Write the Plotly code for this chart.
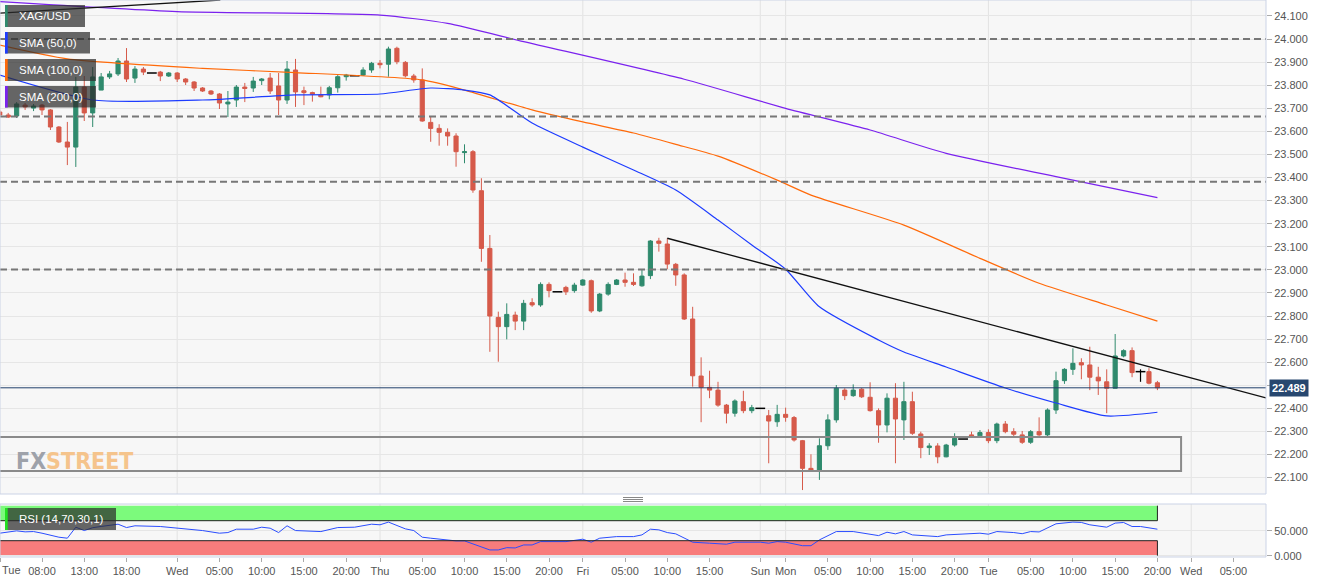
import plotly.graph_objects as go

# ---------------- data (hourly candles, hour index 0 = first Tue 00:00, weekend collapsed) ----------------
hours = list(range(3, 141))

opens = [
    23.684, 23.671, 23.667, 23.714, 23.701, 23.714, 23.693, 23.619, 23.554, 23.532,
    23.792, 23.680, 23.779, 23.836, 23.849, 23.905, 23.831, 23.870, 23.853, 23.857,
    23.840, 23.853, 23.827, 23.814, 23.788, 23.775, 23.762, 23.719, 23.736, 23.792,
    23.788, 23.820, 23.831, 23.797, 23.736, 23.866, 23.776, 23.768, 23.758, 23.758,
    23.789, 23.837, 23.841, 23.844, 23.866, 23.895, 23.891, 23.960, 23.899, 23.840,
    23.823, 23.639, 23.613, 23.596, 23.580, 23.508, 23.512, 23.343, 23.093, 22.794,
    22.754, 22.804, 22.778, 22.858, 22.848, 22.937, 22.905, 22.924, 22.910, 22.934,
    22.953, 22.822, 22.895, 22.937, 22.956, 22.946, 22.931, 22.975, 23.125, 23.112,
    23.024, 22.978, 22.787, 22.540, 22.491, 22.479, 22.414, 22.379, 22.429, 22.390,
    22.400, 22.368, 22.342, 22.374, 22.360, 22.260, 22.140, 22.130, 22.238, 22.350,
    22.479, 22.455, 22.483, 22.448, 22.390, 22.328, 22.444, 22.350, 22.429, 22.289,
    22.230, 22.237, 22.190, 22.241, 22.267, 22.285, 22.281, 22.295, 22.260, 22.332,
    22.299, 22.285, 22.253, 22.299, 22.285, 22.393, 22.520, 22.569, 22.598, 22.588,
    22.535, 22.515, 22.487, 22.627, 22.650, 22.559, 22.559, 22.511,
]
highs = [
    23.693, 23.680, 23.727, 23.723, 23.719, 23.719, 23.697, 23.623, 23.641, 23.836,
    23.840, 23.879, 23.853, 23.862, 23.918, 23.961, 23.883, 23.879, 23.853, 23.862,
    23.857, 23.857, 23.831, 23.818, 23.792, 23.779, 23.766, 23.775, 23.801, 23.810,
    23.836, 23.831, 23.853, 23.853, 23.905, 23.914, 23.794, 23.772, 23.794, 23.797,
    23.844, 23.849, 23.841, 23.878, 23.901, 23.909, 23.967, 23.967, 23.905, 23.849,
    23.873, 23.664, 23.631, 23.613, 23.592, 23.544, 23.519, 23.397, 23.151, 22.819,
    22.855, 22.819, 22.870, 22.877, 22.946, 22.946, 22.905, 22.931, 22.944, 22.960,
    22.958, 22.900, 22.946, 22.960, 22.988, 22.985, 23.003, 23.129, 23.139, 23.137,
    23.030, 22.985, 22.840, 22.621, 22.563, 22.515, 22.419, 22.439, 22.476, 22.415,
    22.400, 22.393, 22.415, 22.403, 22.367, 22.263, 22.201, 22.270, 22.374, 22.501,
    22.487, 22.504, 22.488, 22.513, 22.400, 22.465, 22.509, 22.515, 22.472, 22.299,
    22.249, 22.249, 22.246, 22.292, 22.267, 22.299, 22.306, 22.309, 22.338, 22.345,
    22.314, 22.302, 22.306, 22.361, 22.400, 22.559, 22.574, 22.660, 22.617, 22.667,
    22.580, 22.569, 22.722, 22.656, 22.664, 22.569, 22.574, 22.519,
]
lows = [
    23.662, 23.658, 23.658, 23.693, 23.688, 23.671, 23.606, 23.550, 23.454, 23.446,
    23.645, 23.619, 23.779, 23.827, 23.840, 23.814, 23.810, 23.844, 23.853, 23.818,
    23.836, 23.814, 23.801, 23.775, 23.771, 23.758, 23.697, 23.662, 23.706, 23.727,
    23.771, 23.801, 23.762, 23.671, 23.719, 23.706, 23.714, 23.729, 23.748, 23.739,
    23.768, 23.820, 23.841, 23.840, 23.854, 23.873, 23.837, 23.891, 23.834, 23.811,
    23.642, 23.555, 23.538, 23.538, 23.447, 23.462, 23.334, 23.035, 22.645, 22.602,
    22.699, 22.739, 22.739, 22.840, 22.840, 22.881, 22.905, 22.891, 22.901, 22.931,
    22.814, 22.817, 22.888, 22.934, 22.927, 22.930, 22.927, 22.960, 23.079, 23.003,
    22.931, 22.783, 22.494, 22.340, 22.444, 22.407, 22.335, 22.364, 22.379, 22.379,
    22.400, 22.162, 22.320, 22.342, 22.256, 22.046, 22.126, 22.090, 22.220, 22.338,
    22.436, 22.450, 22.445, 22.386, 22.251, 22.296, 22.162, 22.263, 22.285, 22.184,
    22.198, 22.162, 22.188, 22.234, 22.267, 22.275, 22.277, 22.249, 22.249, 22.292,
    22.277, 22.246, 22.246, 22.277, 22.277, 22.376, 22.506, 22.545, 22.526, 22.479,
    22.458, 22.379, 22.487, 22.621, 22.535, 22.515, 22.504, 22.479,
]
closes = [
    23.671, 23.662, 23.719, 23.706, 23.710, 23.693, 23.619, 23.554, 23.532, 23.792,
    23.680, 23.836, 23.836, 23.849, 23.905, 23.827, 23.870, 23.857, 23.853, 23.840,
    23.853, 23.827, 23.814, 23.788, 23.775, 23.762, 23.723, 23.727, 23.792, 23.786,
    23.818, 23.827, 23.775, 23.736, 23.870, 23.771, 23.768, 23.761, 23.750, 23.789,
    23.837, 23.844, 23.841, 23.866, 23.895, 23.889, 23.957, 23.902, 23.841, 23.823,
    23.645, 23.613, 23.596, 23.580, 23.512, 23.512, 23.346, 23.093, 22.800, 22.754,
    22.807, 22.778, 22.855, 22.848, 22.937, 22.910, 22.905, 22.905, 22.934, 22.956,
    22.822, 22.895, 22.937, 22.956, 22.946, 22.937, 22.973, 23.125, 23.115, 23.025,
    22.978, 22.787, 22.541, 22.491, 22.479, 22.414, 22.379, 22.432, 22.390, 22.403,
    22.400, 22.345, 22.374, 22.361, 22.263, 22.140, 22.130, 22.238, 22.350, 22.487,
    22.455, 22.479, 22.450, 22.390, 22.328, 22.444, 22.354, 22.429, 22.292, 22.230,
    22.237, 22.190, 22.241, 22.270, 22.267, 22.277, 22.295, 22.260, 22.332, 22.299,
    22.288, 22.253, 22.299, 22.285, 22.393, 22.520, 22.569, 22.595, 22.588, 22.535,
    22.519, 22.487, 22.627, 22.650, 22.555, 22.559, 22.509, 22.489,
]

sma50_h = [3, 14, 27, 38, 48, 54, 58, 61, 66, 72, 78, 83, 88, 92, 96, 100, 107, 110, 115, 122, 128, 134, 140]
sma50_v = [23.844, 23.736, 23.736, 23.758, 23.762, 23.788, 23.779, 23.758, 23.636, 23.532, 23.433, 23.346,
           23.216, 23.108, 23.003, 22.840, 22.696, 22.644, 22.579, 22.488, 22.423, 22.367, 22.383]
sma100_h = [3, 11, 27, 38, 53, 58, 66, 72, 78, 83, 88, 95, 99, 110, 119, 126, 134, 140]
sma100_v = [23.974, 23.914, 23.873, 23.855, 23.823, 23.779, 23.693, 23.641, 23.593, 23.544, 23.493, 23.389,
            23.324, 23.194, 23.050, 22.942, 22.848, 22.778]
sma200_h = [3, 24, 48, 56, 65, 84, 96, 106, 115, 128, 140]
sma200_v = [24.162, 24.119, 24.104, 24.068, 23.989, 23.826, 23.700, 23.606, 23.505, 23.404, 23.313]

trend_up_h = [3.03, 29.1]
trend_up_p = [24.112, 24.169]
trend_down_h = [82, 152.85]
trend_down_p = [23.137, 22.445]

levels = [24.000, 23.664, 23.382, 23.002]
zone_low, zone_high, zone_end_h = 22.129, 22.276, 142.8
last_price = 22.489

rsi_h = [3, 5, 6, 7, 8, 10, 11, 12, 13, 14, 15, 17, 18, 19, 22, 24, 27, 29, 30, 31, 33, 34, 35, 36, 37, 38,
         41, 43, 45, 47, 48, 49, 51, 52, 53, 54, 56, 57, 58, 61, 62, 63, 64, 65, 66, 67, 70, 72, 73, 74, 76,
         78, 79, 80, 81, 82, 83, 85, 87, 89, 90, 93, 94, 95, 96, 98, 99, 100, 102, 104, 107, 108, 109, 110,
         111, 112, 114, 115, 117, 119, 120, 121, 123, 124, 125, 126, 128, 130, 131, 132, 134, 135, 136, 137,
         138, 139, 140]
rsi_v = [45, 49.7, 47.7, 48.3, 45, 37, 35, 57, 50.3, 56, 58.5, 63, 56.3, 59.8, 58.4, 55, 50.3, 45, 46.3, 53,
         53, 57, 55, 46.3, 59.8, 50.3, 48.3, 56.3, 57, 63, 61.8, 67.2, 53.7, 50.3, 37, 35, 31.6, 29.6, 29.6,
         11.5, 11.5, 16.1, 15.5, 21.5, 21.5, 28.2, 28.2, 33, 27, 35, 38.2, 38.2, 41.6, 53, 51.7, 46.3, 43.7,
         27, 25, 23, 27, 27, 25, 28.2, 27, 20, 20, 31.6, 48.3, 48.3, 40.2, 47, 43.7, 48.3, 41.6, 40, 38.2,
         41.6, 43, 45, 43, 48.3, 46.3, 44, 48.3, 47.5, 63.8, 67.2, 66.5, 61.8, 57, 65.2, 66.4, 58.4, 58.4,
         55, 53]
rsi_upper, rsi_lower = 70, 30

price_ticks = [22.1, 22.2, 22.3, 22.4, 22.5, 22.6, 22.7, 22.8, 22.9, 23.0, 23.1, 23.2, 23.3, 23.4, 23.5,
               23.6, 23.7, 23.8, 23.9, 24.0, 24.1]
hidden_price_ticks = [22.5]  # covered by the last-price tag in the reference

day_h = [24, 48, 72, 93, 96, 120, 144]
tick_h = [3.1, 8, 13, 18, 24, 29, 34, 39, 44, 48, 53, 58, 63, 68, 72, 77, 82, 87, 93, 96, 101, 106, 111,
          116, 120, 125, 130, 135, 140, 144, 149]
tick_text = ["", "08:00", "13:00", "18:00", "Wed", "05:00", "10:00", "15:00", "20:00", "Thu", "05:00",
             "10:00", "15:00", "20:00", "Fri", "05:00", "10:00", "15:00", "Sun", "Mon", "05:00", "10:00",
             "15:00", "20:00", "Tue", "05:00", "10:00", "15:00", "20:00", "Wed", "05:00"]
first_day_label = "Tue"

labels = ["XAG/USD", "SMA (50,0)", "SMA (100,0)", "SMA (200,0)"]

# ---------------- styling / layout constants ----------------
W, H = 1331, 583
ML, MR, MT, MB = 0, 65, 0, 26
PW, PH = W - ML - MR, H - MT - MB
X_RANGE = [3.03, 152.85]
Y_RANGE = [22.0289, 24.1693]
RSI_RANGE = [-2.6, 103.4]
MAIN_BOTTOM_PX, RSI_TOP_PX = 494, 504
UP, DOWN = "#2f8a6d", "#d65a4a"
FONT = "Liberation Sans, Arial, sans-serif"
AXIS_FONT = dict(family=FONT, size=11, color="#555555")


def px_x(px):
    return px / PW


def px_y(py):
    return 1 - py / PH


# split doji candles (drawn as black dashes) from regular ones
reg = [i for i in range(len(hours)) if opens[i] != closes[i]]
doj = [i for i in range(len(hours)) if opens[i] == closes[i]]

fig = go.Figure()
fig.add_trace(go.Candlestick(
    x=[hours[i] for i in reg], open=[opens[i] for i in reg], high=[highs[i] for i in reg],
    low=[lows[i] for i in reg], close=[closes[i] for i in reg],
    increasing=dict(line=dict(color=UP, width=1), fillcolor=UP),
    decreasing=dict(line=dict(color=DOWN, width=1), fillcolor=DOWN),
    whiskerwidth=0, hoverinfo="skip", xaxis="x", yaxis="y"))

# doji wicks + dashes
wx, wy = [], []
for i in doj:
    if highs[i] > lows[i]:
        wx += [hours[i], hours[i], None]
        wy += [lows[i], highs[i], None]
fig.add_trace(go.Scatter(x=wx, y=wy, mode="lines", line=dict(color="black", width=1.2),
                         hoverinfo="skip", xaxis="x", yaxis="y"))
fig.add_trace(go.Scatter(x=[hours[i] for i in doj], y=[closes[i] for i in doj], mode="markers",
                         marker=dict(symbol="line-ew", size=7, line=dict(color="black", width=1.5)),
                         hoverinfo="skip", xaxis="x", yaxis="y"))

for hh, vv, col in [(sma200_h, sma200_v, "#7b22ee"), (sma100_h, sma100_v, "#ff6a0a"),
                    (sma50_h, sma50_v, "#1d3cff")]:
    fig.add_trace(go.Scatter(x=hh, y=vv, mode="lines",
                             line=dict(color=col, width=1.2, shape="spline", smoothing=0.6),
                             hoverinfo="skip", xaxis="x", yaxis="y"))

for hh, pp in [(trend_up_h, trend_up_p), (trend_down_h, trend_down_p)]:
    fig.add_trace(go.Scatter(x=hh, y=pp, mode="lines", line=dict(color="#111111", width=1.3),
                             hoverinfo="skip", xaxis="x", yaxis="y"))

fig.add_trace(go.Scatter(x=rsi_h, y=rsi_v, mode="lines", line=dict(color="#2a4dff", width=1),
                         hoverinfo="skip", xaxis="x", yaxis="y2"))

shapes = []
# day separators
for d in day_h:
    for yr in ["y domain", "y2 domain"]:
        shapes.append(dict(type="line", xref="x", yref=yr, x0=d, x1=d, y0=0, y1=1,
                           line=dict(color="#e2e2e2", width=1), layer="below"))
# key levels
for lv in levels:
    shapes.append(dict(type="line", xref="x domain", yref="y", x0=0, x1=1, y0=lv, y1=lv,
                       line=dict(color="#777777", width=2, dash="7px,4px")))
# support zone
shapes.append(dict(type="rect", xref="x", yref="y", x0=0, x1=zone_end_h, y0=zone_low, y1=zone_high,
                   line=dict(color="#8a8a8a", width=2), fillcolor="rgba(0,0,0,0)"))
# last price line
shapes.append(dict(type="line", xref="x domain", yref="y", x0=0, x1=1, y0=last_price, y1=last_price,
                   line=dict(color="#22406b", width=1)))
# RSI bands
last_h = hours[-1]
shapes.append(dict(type="rect", xref="x", yref="y2", x0=X_RANGE[0], x1=last_h, y0=rsi_upper, y1=100,
                   fillcolor="#7cfa7c", line=dict(width=0), layer="below"))
shapes.append(dict(type="rect", xref="x", yref="y2", x0=X_RANGE[0], x1=last_h, y0=0, y1=rsi_lower,
                   fillcolor="#f87c7c", line=dict(width=0), layer="below"))
for y0, y1 in [(rsi_upper, rsi_upper), (rsi_lower, rsi_lower)]:
    shapes.append(dict(type="line", xref="x", yref="y2", x0=X_RANGE[0], x1=last_h, y0=y0, y1=y1,
                       line=dict(color="#222222", width=1)))
for y0, y1 in [(rsi_upper, 100), (0, rsi_lower)]:
    shapes.append(dict(type="line", xref="x", yref="y2", x0=last_h, x1=last_h, y0=y0, y1=y1,
                       line=dict(color="#222222", width=1)))
# panel borders
for yr in ["y domain", "y2 domain"]:
    shapes.append(dict(type="rect", xref="paper", yref=yr, x0=0, x1=1, y0=0, y1=1,
                       line=dict(color="#cbd3e6", width=1), fillcolor="rgba(0,0,0,0)"))
# resize handle
for py in [497.5, 499.5, 501.5]:
    shapes.append(dict(type="line", xref="paper", yref="paper", x0=px_x(623), x1=px_x(643),
                       y0=px_y(py), y1=px_y(py), line=dict(color="#888888", width=1)))

# legend-like label boxes
box_specs = [(5, 85, 5, 27, UP), (5, 90, 32, 53.5, "#1d3cff"), (5, 96, 59, 81, "#ff6a0a"),
             (5, 96, 86, 107.5, "#7b22ee")]
annotations = []
for (x0, x1, y0, y1, col), txt in zip(box_specs, labels):
    shapes.append(dict(type="rect", xref="paper", yref="paper", x0=px_x(x0), x1=px_x(x1),
                       y0=px_y(y1), y1=px_y(y0), fillcolor="rgba(45,45,45,0.72)", line=dict(width=0)))
    shapes.append(dict(type="rect", xref="paper", yref="paper", x0=px_x(x0), x1=px_x(x0 + 2.7),
                       y0=px_y(y1), y1=px_y(y0), fillcolor=col, line=dict(width=0)))
    annotations.append(dict(xref="paper", yref="paper", x=px_x(16.5), y=px_y((y0 + y1) / 2), text=txt,
                            showarrow=False, xanchor="left", yanchor="middle",
                            font=dict(family=FONT, size=11.5, color="white")))
# RSI label box
shapes.append(dict(type="rect", xref="paper", yref="paper", x0=px_x(5), x1=px_x(116),
                   y0=px_y(530), y1=px_y(508), fillcolor="rgba(45,45,45,0.72)", line=dict(width=0)))
shapes.append(dict(type="rect", xref="paper", yref="paper", x0=px_x(5), x1=px_x(7.7),
                   y0=px_y(530), y1=px_y(508), fillcolor="#22e022", line=dict(width=0)))
annotations.append(dict(xref="paper", yref="paper", x=px_x(16.5), y=px_y(519), text="RSI (14,70,30,1)",
                        showarrow=False, xanchor="left", yanchor="middle",
                        font=dict(family=FONT, size=11.5, color="white")))
# price tag
annotations.append(dict(xref="paper", yref="y", x=1, xshift=3, y=last_price, text="<b>%.3f</b>" % last_price,
                        showarrow=False, xanchor="left", yanchor="middle", bgcolor="#27476f", borderpad=2,
                        font=dict(family=FONT, size=11, color="white")))
# first day label
annotations.append(dict(xref="paper", yref="paper", x=0, y=px_y(570), text=first_day_label, showarrow=False,
                        xanchor="left", yanchor="middle", font=AXIS_FONT))
# watermark
annotations.append(dict(xref="paper", yref="paper", x=px_x(14), y=px_y(461),
                        text="<b><span style='color:#9ea2aa'>FX</span><span style='color:#f5c48c'>STREET</span></b>",
                        showarrow=False, xanchor="left", yanchor="middle",
                        font=dict(family="Liberation Sans Narrow, DejaVu Sans Condensed, Arial Narrow, sans-serif",
                                  size=23)))

price_tick_text = ["" if t in hidden_price_ticks else "%.3f" % t for t in price_ticks]

fig.update_layout(
    width=W, height=H, margin=dict(l=ML, r=MR, t=MT, b=MB),
    paper_bgcolor="white", plot_bgcolor="#f7f7f7", showlegend=False, boxgap=0.3,
    font=dict(family=FONT),
    xaxis=dict(range=X_RANGE, anchor="y2", rangeslider=dict(visible=False), showgrid=False, zeroline=False,
               tickmode="array", tickvals=tick_h, ticktext=tick_text, ticks="outside", ticklen=4,
               tickcolor="#aaaaaa", tickfont=AXIS_FONT, showline=False),
    yaxis=dict(domain=[1 - MAIN_BOTTOM_PX / PH, 1], range=Y_RANGE, side="right", anchor="x",
               tickmode="array", tickvals=price_ticks, ticktext=price_tick_text,
               ticks="outside", ticklen=5, tickcolor="#aaaaaa",
               tickfont=AXIS_FONT, gridcolor="#e6e6e6", zeroline=False, showline=False),
    yaxis2=dict(domain=[0, 1 - RSI_TOP_PX / PH], range=RSI_RANGE, side="right", anchor="x",
                tickvals=[0, 50], ticktext=["0.000", "50.000"], ticks="outside", ticklen=5,
                tickcolor="#aaaaaa", tickfont=AXIS_FONT, gridcolor="#e6e6e6", zeroline=False, showline=False),
    shapes=shapes, annotations=annotations,
)

fig.write_html("out.html", config={"displayModeBar": False},
               post_script="document.body.style.margin='0px';document.body.style.overflow='hidden';")
